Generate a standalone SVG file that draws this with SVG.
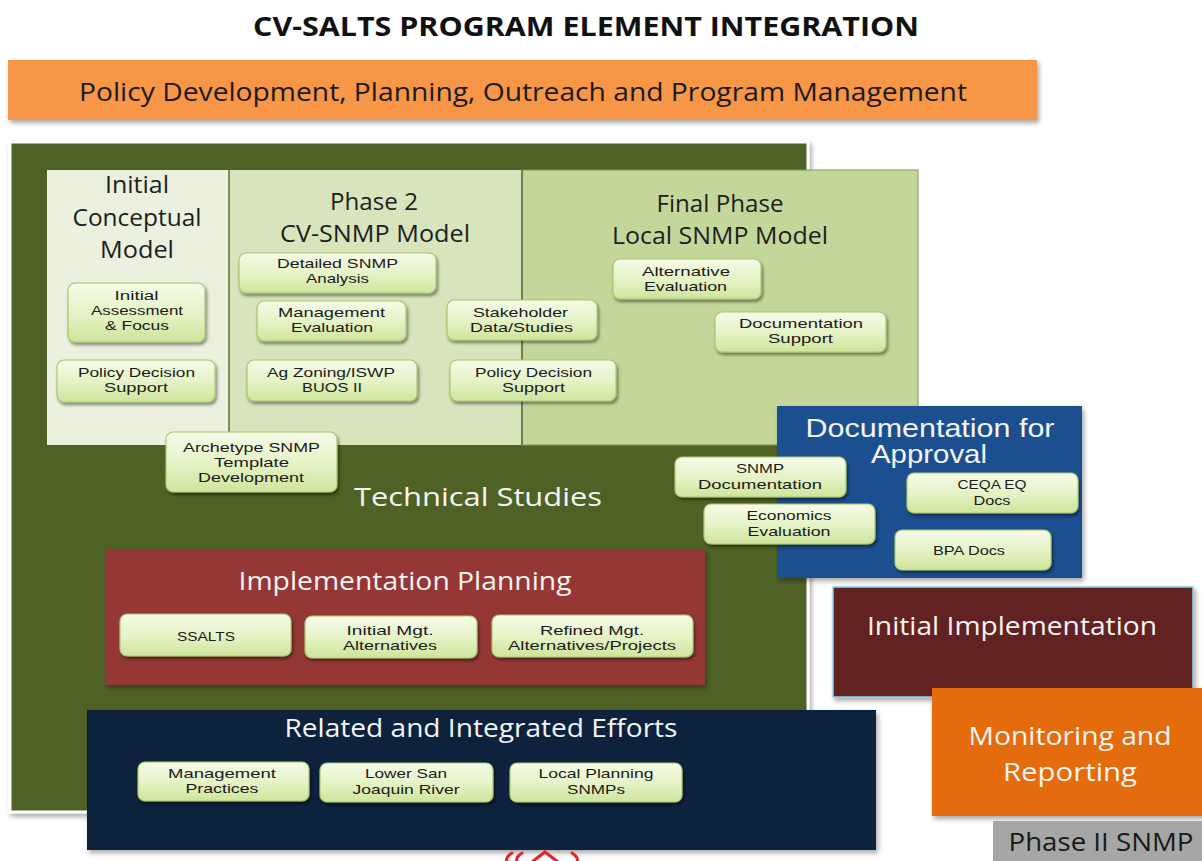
<svg xmlns="http://www.w3.org/2000/svg" width="1202" height="861" viewBox="0 0 1202 861">
<defs>
<linearGradient id="boxGrad" x1="0" y1="0" x2="0" y2="1">
<stop offset="0" stop-color="#f6fbe8"/>
<stop offset="0.55" stop-color="#e4f2c4"/>
<stop offset="1" stop-color="#cde59b"/>
</linearGradient>
<filter id="sh" x="-10%" y="-10%" width="130%" height="140%">
<feDropShadow dx="1.5" dy="2.5" stdDeviation="1.8" flood-color="#000" flood-opacity="0.45"/>
</filter>
<filter id="shBig" x="-5%" y="-5%" width="110%" height="115%">
<feDropShadow dx="2" dy="3" stdDeviation="2.5" flood-color="#000" flood-opacity="0.35"/>
</filter>
</defs>
<style>
.box{fill:url(#boxGrad);stroke:#a9c76f;stroke-width:1.2;filter:url(#sh)}
.bt{font-family:"Liberation Sans",Arial,sans-serif;font-size:13px;fill:#1b1b1b;text-anchor:middle}
.ph{font-family:"Open Sans","Liberation Sans",sans-serif;font-size:23px;fill:#1e1e1e;text-anchor:middle}
.wt{font-family:"Open Sans","Liberation Sans",sans-serif;font-size:26px;fill:#f4f4f4;text-anchor:middle}
.wt2{font-family:"Liberation Sans",Arial,sans-serif;font-size:25px;fill:#f4f4f4;text-anchor:middle}
.dt{font-family:"Open Sans","Liberation Sans",sans-serif;font-size:26px;fill:#1a1a1a;text-anchor:middle}
</style>
<rect width="1202" height="861" fill="#ffffff"/>

<g id="title">
<text x="586" y="36" font-family="Open Sans, Liberation Sans, sans-serif" font-weight="bold" font-size="27" fill="#111" text-anchor="middle" textLength="666" lengthAdjust="spacingAndGlyphs">CV-SALTS PROGRAM ELEMENT INTEGRATION</text>
</g>

<g id="policy-bar">
<rect x="8" y="60" width="1029" height="60" fill="#f79646" filter="url(#shBig)"/>
<text class="dt" x="523" y="101" textLength="888" lengthAdjust="spacingAndGlyphs">Policy Development, Planning, Outreach and Program Management</text>
</g>

<g id="technical-studies">
<rect x="10" y="142" width="798" height="670" fill="#4f6228" stroke="#ffffff" stroke-width="3" filter="url(#shBig)"/>
<text class="wt" x="478" y="506" textLength="248" lengthAdjust="spacingAndGlyphs">Technical Studies</text>
</g>

<g id="initial-conceptual-model">
<rect x="47" y="170" width="182" height="275" fill="#ebf1de"/>
<text class="ph" x="137" y="193" textLength="64" lengthAdjust="spacingAndGlyphs">Initial</text>
<text class="ph" x="137" y="226" textLength="129" lengthAdjust="spacingAndGlyphs">Conceptual</text>
<text class="ph" x="137" y="258" textLength="74" lengthAdjust="spacingAndGlyphs">Model</text>
</g>

<g id="phase2-model">
<rect x="229" y="170" width="293" height="275" fill="#d8e4bc"/>
<text class="ph" x="374" y="210" textLength="88" lengthAdjust="spacingAndGlyphs">Phase 2</text>
<text class="ph" x="375" y="242" textLength="190" lengthAdjust="spacingAndGlyphs">CV-SNMP Model</text>
</g>

<g id="final-phase-model">
<rect x="522" y="170" width="396" height="275" fill="#c4d79b" stroke="#7f9a50" stroke-width="1"/>
<text class="ph" x="720" y="212" textLength="127" lengthAdjust="spacingAndGlyphs">Final Phase</text>
<text class="ph" x="720" y="244" textLength="216" lengthAdjust="spacingAndGlyphs">Local SNMP Model</text>
</g>
<line x1="229" y1="170" x2="229" y2="445" stroke="#5c6f3c" stroke-width="1.5"/>
<line x1="522" y1="170" x2="522" y2="445" stroke="#5c6f3c" stroke-width="1.5"/>

<g id="initial-assessment">
<rect class="box" x="68" y="283" width="137" height="59" rx="7"/>
<text class="bt" x="136.5" y="300" textLength="44" lengthAdjust="spacingAndGlyphs">Initial</text>
<text class="bt" x="137" y="315" textLength="92" lengthAdjust="spacingAndGlyphs">Assessment</text>
<text class="bt" x="137" y="330" textLength="64" lengthAdjust="spacingAndGlyphs">&amp; Focus</text>
</g>
<g id="policy-decision-support-1">
<rect class="box" x="57" y="360" width="158" height="42" rx="7"/>
<text class="bt" x="136.5" y="377" textLength="117" lengthAdjust="spacingAndGlyphs">Policy Decision</text>
<text class="bt" x="136" y="392" textLength="64" lengthAdjust="spacingAndGlyphs">Support</text>
</g>
<g id="detailed-snmp-analysis">
<rect class="box" x="239" y="253" width="197" height="40" rx="7"/>
<text class="bt" x="337.5" y="268" textLength="121" lengthAdjust="spacingAndGlyphs">Detailed SNMP</text>
<text class="bt" x="337.5" y="283" textLength="63" lengthAdjust="spacingAndGlyphs">Analysis</text>
</g>
<g id="management-evaluation">
<rect class="box" x="257" y="301" width="149" height="40" rx="7"/>
<text class="bt" x="331.5" y="317" textLength="107" lengthAdjust="spacingAndGlyphs">Management</text>
<text class="bt" x="332" y="332" textLength="82" lengthAdjust="spacingAndGlyphs">Evaluation</text>
</g>
<g id="ag-zoning">
<rect class="box" x="247" y="360" width="170" height="41" rx="7"/>
<text class="bt" x="331" y="377" textLength="128" lengthAdjust="spacingAndGlyphs">Ag Zoning/ISWP</text>
<text class="bt" x="332" y="392" textLength="60" lengthAdjust="spacingAndGlyphs">BUOS II</text>
</g>
<g id="stakeholder-data">
<rect class="box" x="447" y="300" width="150" height="40" rx="7"/>
<text class="bt" x="520.5" y="317" textLength="95" lengthAdjust="spacingAndGlyphs">Stakeholder</text>
<text class="bt" x="521.5" y="332" textLength="103" lengthAdjust="spacingAndGlyphs">Data/Studies</text>
</g>
<g id="policy-decision-support-2">
<rect class="box" x="450" y="360" width="166" height="41" rx="7"/>
<text class="bt" x="533.5" y="377" textLength="117" lengthAdjust="spacingAndGlyphs">Policy Decision</text>
<text class="bt" x="533.5" y="392" textLength="63" lengthAdjust="spacingAndGlyphs">Support</text>
</g>
<g id="alternative-evaluation">
<rect class="box" x="613" y="259" width="148" height="40" rx="7"/>
<text class="bt" x="686" y="276" textLength="88" lengthAdjust="spacingAndGlyphs">Alternative</text>
<text class="bt" x="685.5" y="291" textLength="83" lengthAdjust="spacingAndGlyphs">Evaluation</text>
</g>
<g id="documentation-support">
<rect class="box" x="715" y="312" width="171" height="40" rx="7"/>
<text class="bt" x="801" y="328" textLength="124" lengthAdjust="spacingAndGlyphs">Documentation</text>
<text class="bt" x="800.5" y="343" textLength="65" lengthAdjust="spacingAndGlyphs">Support</text>
</g>
<g id="archetype-snmp">
<rect class="box" x="166" y="432" width="171" height="60" rx="7"/>
<text class="bt" x="251.5" y="452" textLength="137" lengthAdjust="spacingAndGlyphs">Archetype SNMP</text>
<text class="bt" x="251.5" y="467" textLength="75" lengthAdjust="spacingAndGlyphs">Template</text>
<text class="bt" x="251" y="482" textLength="106" lengthAdjust="spacingAndGlyphs">Development</text>
</g>

<g id="documentation-for-approval">
<rect x="777" y="406" width="305" height="172" fill="#1f4f8f" filter="url(#shBig)"/>
<text class="wt2" x="930" y="437" textLength="249" lengthAdjust="spacingAndGlyphs">Documentation for</text>
<text class="wt2" x="929" y="463" textLength="116" lengthAdjust="spacingAndGlyphs">Approval</text>
</g>
<g id="snmp-documentation">
<rect class="box" x="675" y="457" width="171" height="40" rx="7"/>
<text class="bt" x="760" y="473" textLength="48" lengthAdjust="spacingAndGlyphs">SNMP</text>
<text class="bt" x="760" y="489" textLength="124" lengthAdjust="spacingAndGlyphs">Documentation</text>
</g>
<g id="economics-evaluation">
<rect class="box" x="704" y="504" width="171" height="40" rx="7"/>
<text class="bt" x="789" y="520" textLength="85" lengthAdjust="spacingAndGlyphs">Economics</text>
<text class="bt" x="789" y="536" textLength="83" lengthAdjust="spacingAndGlyphs">Evaluation</text>
</g>
<g id="ceqa-eq-docs">
<rect class="box" x="907" y="473" width="171" height="40" rx="7"/>
<text class="bt" x="992" y="489" textLength="69" lengthAdjust="spacingAndGlyphs">CEQA EQ</text>
<text class="bt" x="992" y="505" textLength="37" lengthAdjust="spacingAndGlyphs">Docs</text>
</g>
<g id="bpa-docs">
<rect class="box" x="895" y="530" width="156" height="40" rx="7"/>
<text class="bt" x="969" y="555" textLength="72" lengthAdjust="spacingAndGlyphs">BPA Docs</text>
</g>

<g id="implementation-planning">
<rect x="105" y="549" width="600" height="136" fill="#953735" filter="url(#shBig)"/>
<text class="wt" x="405" y="590" textLength="333" lengthAdjust="spacingAndGlyphs">Implementation Planning</text>
</g>
<g id="ssalts">
<rect class="box" x="120" y="614" width="171" height="42" rx="7"/>
<text class="bt" x="206" y="641" textLength="58" lengthAdjust="spacingAndGlyphs">SSALTS</text>
</g>
<g id="initial-mgt-alternatives">
<rect class="box" x="305" y="616" width="172" height="42" rx="7"/>
<text class="bt" x="390" y="635" textLength="87" lengthAdjust="spacingAndGlyphs">Initial Mgt.</text>
<text class="bt" x="390" y="650" textLength="94" lengthAdjust="spacingAndGlyphs">Alternatives</text>
</g>
<g id="refined-mgt-alternatives">
<rect class="box" x="492" y="615" width="201" height="42" rx="7"/>
<text class="bt" x="592" y="635" textLength="104" lengthAdjust="spacingAndGlyphs">Refined Mgt.</text>
<text class="bt" x="592" y="650" textLength="168" lengthAdjust="spacingAndGlyphs">Alternatives/Projects</text>
</g>

<g id="related-integrated-efforts">
<rect x="87" y="710" width="789" height="140" fill="#10243e" filter="url(#shBig)"/>
<text class="wt" x="481" y="737" textLength="393" lengthAdjust="spacingAndGlyphs">Related and Integrated Efforts</text>
</g>
<g id="management-practices">
<rect class="box" x="138" y="762" width="171" height="39" rx="7"/>
<text class="bt" x="222" y="778" textLength="108" lengthAdjust="spacingAndGlyphs">Management</text>
<text class="bt" x="222" y="793" textLength="73" lengthAdjust="spacingAndGlyphs">Practices</text>
</g>
<g id="lower-san-joaquin">
<rect class="box" x="320" y="763" width="173" height="39" rx="7"/>
<text class="bt" x="406" y="778" textLength="82" lengthAdjust="spacingAndGlyphs">Lower San</text>
<text class="bt" x="406" y="794" textLength="107" lengthAdjust="spacingAndGlyphs">Joaquin River</text>
</g>
<g id="local-planning-snmps">
<rect class="box" x="510" y="763" width="172" height="39" rx="7"/>
<text class="bt" x="596" y="778" textLength="115" lengthAdjust="spacingAndGlyphs">Local Planning</text>
<text class="bt" x="596" y="794" textLength="58" lengthAdjust="spacingAndGlyphs">SNMPs</text>
</g>

<g id="initial-implementation">
<rect x="833" y="587" width="360" height="110" fill="#632423" stroke="#86d3ea" stroke-width="1.5" filter="url(#shBig)"/>
<text class="wt" x="1012" y="635" textLength="290" lengthAdjust="spacingAndGlyphs">Initial Implementation</text>
</g>

<g id="monitoring-reporting">
<rect x="932" y="688" width="272" height="128" fill="#e46c0a" filter="url(#shBig)"/>
<text class="wt" x="1070" y="745" font-size="27" textLength="203" lengthAdjust="spacingAndGlyphs">Monitoring and</text>
<text class="wt" x="1070" y="781" font-size="27" textLength="134" lengthAdjust="spacingAndGlyphs">Reporting</text>
</g>

<g id="phase-ii-snmp">
<rect x="993" y="821" width="211" height="42" fill="#a6a6a6"/>
<text class="dt" x="1101" y="851" textLength="185" lengthAdjust="spacingAndGlyphs">Phase II SNMP</text>
</g>

<g id="connectors"></g>

<g id="bottom-mark" fill="none" stroke="#e0262a" stroke-width="3" stroke-linecap="round">
<path d="M512 853 Q504 858 508 863"/>
<path d="M522 853 Q514 858 518 863"/>
<path d="M532 862 L545 852 L558 862"/>
<path d="M572 853 Q580 858 576 863"/>
</g>
</svg>
